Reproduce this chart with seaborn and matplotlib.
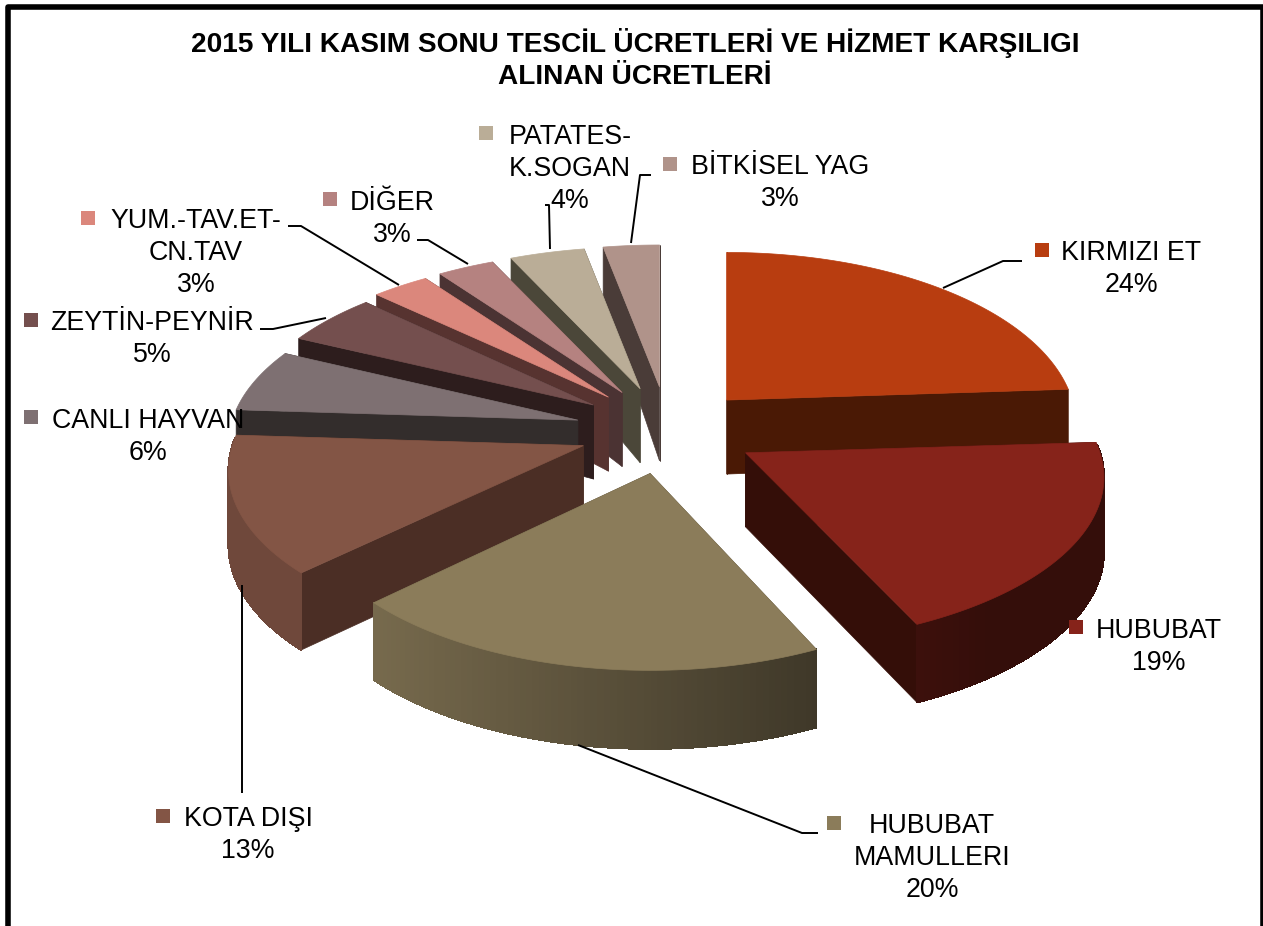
import numpy as np
import matplotlib
matplotlib.use("Agg")
import matplotlib.pyplot as plt
from matplotlib.collections import PolyCollection
from matplotlib.colors import to_rgb
import seaborn as sns

# ---- data ----
names = ["KIRMIZI ET", "HUBUBAT", "HUBUBAT MAMULLERI", "KOTA DIŞI", "CANLI HAYVAN",
         "ZEYTİN-PEYNİR", "YUM.-TAV.ET-CN.TAV", "DİĞER", "PATATES-K.SOGAN", "BİTKİSEL YAG"]
values = [24, 19, 20, 13, 6, 5, 3, 3, 4, 3]
label_text = ["KIRMIZI ET", "HUBUBAT", "HUBUBAT\nMAMULLERI", "KOTA DIŞI", "CANLI HAYVAN",
              "ZEYTİN-PEYNİR", "YUM.-TAV.ET-\nCN.TAV", "DİĞER", "PATATES-\nK.SOGAN", "BİTKİSEL YAG"]
title = "2015 YILI KASIM SONU TESCİL ÜCRETLERİ VE HİZMET KARŞILIGI\nALINAN ÜCRETLERİ"

# ---- style ----
top_colors = ["#b83d10", "#86231a", "#8b7c5a", "#835545", "#7e7072",
              "#744f4e", "#db877c", "#b58280", "#baad97", "#b0938a"]
cut_colors = ["#4a1905", "#340e08", "#4b432f", "#4b2e25", "#332d2c",
              "#2d1d1d", "#573330", "#4b3333", "#4b4739", "#4a3c38"]
label_xy = [(1131, 269), (1159, 647), (932, 858), (248, 835), (148, 437),
            (152, 339), (196, 253), (392, 219), (570, 169), (780, 183)]
key_x = [1042, 1076, 834, 163, 31, 31, 88, 330, 486, 670]
key_y = [250, 627, 823, 816, 417, 320, 218, 199, 133, 164]
leaders = [
    [(1022, 261), (1003, 261), (943, 288)],
    [(818, 833), (802, 833), (578, 745)],
    [(242, 793), (242, 585)],
    [(260, 329), (273, 329), (326, 318)],
    [(288, 226), (301, 226), (399, 285)],
    [(417, 240), (428, 240), (468, 264)],
    [(545, 205), (549, 205), (550, 249)],
    [(651, 175), (640, 175), (631, 243)],
]
CX, CY = 668, 431.5          # pie centre on the canvas
RX, RY = 360, 167            # radii of the tilted disc
EXPLODE = 0.25               # explosion as a share of the radius
PERSP = 0.15                 # foreshortening towards the back
DEPTH = 74                   # thickness of the disc
# per-slice fine tuning of the drawing (not data)
scale_x = [0.96, 0.985, 0.955, 0.975, 0.96, 0.967, 0.985, 0.98, 0.975, 0.98]
scale_y = [1.04, 1.0, 1.025, 1.01, 1.0, 1.0, 1.0, 1.0, 1.0, 1.0]
nudge_x = [-3, 0, -1, 0, -3, 0, 0, 0, 0, 0]
nudge_y = [-1, 0, 1, 0, -1, -3, -3, -3, -3, -3]

sns.set_theme(style="white")
plt.rcParams["font.family"] = ["Liberation Sans", "DejaVu Sans"]

fig = plt.figure(figsize=(12.63, 9.26), dpi=100, facecolor="white")
ax = fig.add_axes([0, 0, 1, 1])


def local(a, sx, sy):
    """Point on the rim of a slice, relative to its apex (angle clockwise from north)."""
    X, Y = np.sin(a), np.cos(a)
    p = 1 - PERSP * Y
    return RX * sx * X * p, -RY * sy * Y * p


def depth(a):
    Y = np.cos(a)
    return DEPTH * (1 - (0.35 if Y > 0 else 0.06) * Y)


def shade(color, a):
    f = np.clip(0.60 - 0.35 * np.sin(a), 0.39, 0.85)
    return tuple(c * f for c in to_rgb(color))


edges = np.cumsum([0] + values) / sum(values) * 2 * np.pi
mids = (edges[:-1] + edges[1:]) / 2
# painter's order: apexes furthest back first
order = np.argsort(-np.cos(mids))

for k, i in enumerate(order):
    a0, a1 = edges[i], edges[i + 1]
    m = mids[i]
    ax_ = CX + EXPLODE * RX * np.sin(m) + nudge_x[i]
    ay_ = CY - EXPLODE * RY * np.cos(m) + nudge_y[i]
    z = 2 + k
    angles = np.linspace(a0, a1, max(int((a1 - a0) * 60), 6))
    rim = [(ax_ + local(a, scale_x[i], scale_y[i])[0], ay_ + local(a, scale_x[i], scale_y[i])[1]) for a in angles]
    low = [(x, y + depth(a)) for (x, y), a in zip(rim, angles)]
    # the two cut faces
    for j in (0, -1):
        face = [(ax_, ay_), rim[j], low[j], (ax_, ay_ + DEPTH)]
        ax.add_patch(plt.Polygon(face, closed=True, fc=cut_colors[i], ec=cut_colors[i], lw=0.5, zorder=z))
    # the outer wall, shaded by angle, only where it faces the viewer
    quads, cols = [], []
    for q in range(len(angles) - 1):
        mid_a = (angles[q] + angles[q + 1]) / 2
        if np.cos(mid_a) < 0.05:
            quads.append([rim[q], rim[q + 1], low[q + 1], low[q]])
            cols.append(shade(top_colors[i], mid_a))
    if quads:
        ax.add_collection(PolyCollection(quads, facecolors=cols, edgecolors=cols, linewidths=0.8,
                                         antialiaseds=False, zorder=z))
    # the top face
    ax.add_patch(plt.Polygon([(ax_, ay_)] + rim, closed=True, fc=top_colors[i], ec=top_colors[i], lw=0.5, zorder=z + 0.5))

# legend keys
palette = dict(zip(names, top_colors))
sns.scatterplot(x=key_x, y=key_y, hue=names, palette=palette, marker="s", s=90,
                linewidth=0, legend=False, ax=ax, zorder=30)

for line in leaders:
    xs, ys = zip(*line)
    ax.plot(xs, ys, color="black", lw=1.4, zorder=31, solid_capstyle="butt")

for txt, v, (x, y) in zip(label_text, values, label_xy):
    ax.text(x, y, f"{txt}\n{v}%", ha="center", va="center", multialignment="center",
            fontsize=19.3, color="black", linespacing=1.28, zorder=32)

ax.text(635, 59, title, ha="center", va="center", multialignment="center",
        fontsize=20.15, fontweight="bold", color="black", linespacing=1.3, zorder=32)

# chart frame (runs off the right and bottom of the picture)
ax.plot([8, 8, 1262.5, 1262.5], [940, 6.5, 6.5, 940], color="black", lw=4.0,
        solid_joinstyle="round", zorder=40)

ax.set_xlim(0, 1263)
ax.set_ylim(926, 0)
ax.axis("off")
fig.savefig("out.png", dpi=100)
